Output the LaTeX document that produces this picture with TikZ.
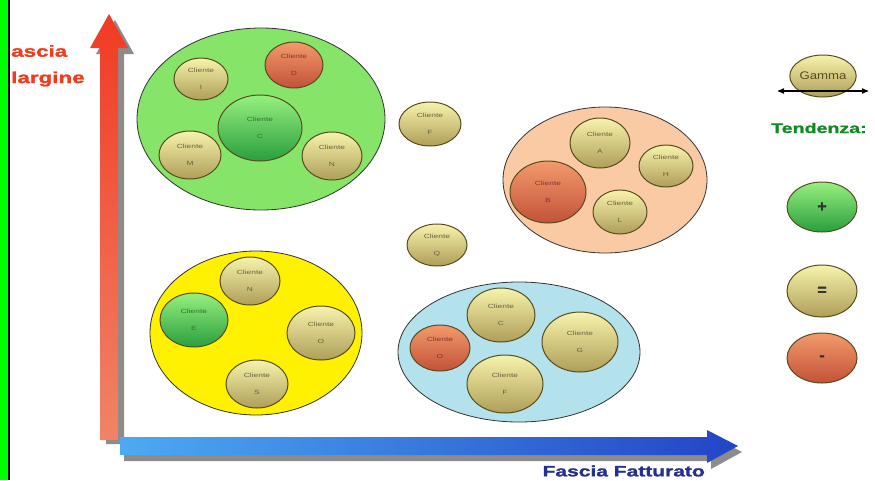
\documentclass[tikz,border=0pt]{standalone}
\usepackage{fontspec}
\setmainfont{Liberation Sans}
\newfontfamily\heavyfont{Liberation Sans Bold}[FakeBold=1.2]
\usepackage{graphicx}
\usepackage{tikz}
\usetikzlibrary{arrows}
\usetikzlibrary{shapes.geometric}
\usetikzlibrary{shadings}

\definecolor{clientlight}{HTML}{F7F3AC}
\definecolor{clientdark}{HTML}{AE9E58}
\definecolor{clientedge}{HTML}{574C1E}
\definecolor{clienttext}{HTML}{6A6040}
\definecolor{uplight}{HTML}{96F07E}
\definecolor{updark}{HTML}{2A9E3E}
\definecolor{downlight}{HTML}{F39A6C}
\definecolor{downdark}{HTML}{C25238}
\definecolor{groupgreen}{HTML}{86E468}
\definecolor{groupyellow}{HTML}{FFF100}
\definecolor{grouppeach}{HTML}{F9CAA4}
\definecolor{groupblue}{HTML}{B4E2EC}
\definecolor{axisred}{HTML}{F23A24}
\definecolor{axisorange}{HTML}{F08466}
\definecolor{axisblue}{HTML}{4CAAF2}
\definecolor{axisdeep}{HTML}{2344C6}
\definecolor{labelred}{HTML}{EE3C1E}
\definecolor{labelblue}{HTML}{22318E}
\definecolor{labelgreen}{HTML}{128A24}

\newcommand{\wide}[1]{\scalebox{1.4}[1]{#1}}
\newcommand{\clientlabel}[1]{\wide{Cliente}\\\wide{#1}}

\begin{document}
\begin{tikzpicture}[x=1pt, y=-1pt,
  group/.style={ellipse, draw=black!80, line width=0.8pt, inner sep=0pt},
  client/.style={ellipse, draw=clientedge, line width=1pt, inner sep=0pt,
    top color=clientlight, bottom color=clientdark, text=clienttext,
    font=\fontsize{6}{17}\selectfont, align=center},
  up/.style={client, top color=uplight, bottom color=updark, text=green!30!black!80},
  down/.style={client, top color=downlight, bottom color=downdark, text=red!40!black!80},
  dims/.style 2 args={minimum width=#1pt, minimum height=#2pt},
  axislabel/.style={font=\fontsize{#1}{#1}\heavyfont, inner sep=0pt},
  paths/.style={<->, line width=1.2pt, >=stealth'}]

 \useasboundingbox (0,0) rectangle (875,480);
 \fill[white] (0,0) rectangle (875,480);

 \node[axislabel=16, text=labelred, anchor=west] (axis_label_1) at (11,51) {\wide{ascia}};
 \node[axislabel=16, text=labelred, anchor=west] (axis_label_2) at (11,79) {\wide{largine}};

 \fill[green] (0,0) rectangle (8,480);
 \fill[black] (8,0) rectangle (9.5,480);

 \fill[black!45] (106,444) -- (106,54) -- (96,54) -- (115,20) -- (134,54) -- (124,54) -- (124,444) -- cycle;
 \path[top color=axisred, bottom color=axisorange] (100,440) -- (100,48) -- (90,48) -- (109,14) -- (128,48) -- (118,48) -- (118,440) -- cycle;

 \fill[black!45] (124,443) -- (711,443) -- (711,436) -- (742,452) -- (711,469) -- (711,461) -- (124,461) -- cycle;
 \path[left color=axisblue, right color=axisdeep] (120,437) -- (707,437) -- (707,430) -- (738,446) -- (707,463) -- (707,455) -- (120,455) -- cycle;

 \node[axislabel=15, text=labelblue, anchor=east] (axis_label_3) at (705,471) {\wide{Fascia Fatturato}};


 \node[group, fill=groupgreen, dims={248}{182}] (group_1) at (261,119) {};
 \node[client, dims={54}{42}] (client_1) at (201,79) {\clientlabel{I}};
 \node[down, dims={58}{46}] (client_2) at (294,65) {\clientlabel{D}};
 \node[up, dims={84}{66}] (client_3) at (260,128) {\clientlabel{C}};
 \node[client, dims={62}{48}] (client_4) at (190,155) {\clientlabel{M}};
 \node[client, dims={60}{48}] (client_5) at (332,156) {\clientlabel{N}};

 \node[client, dims={62}{44}] (client_6) at (430,124) {\clientlabel{F}};
 \node[client, dims={60}{42}] (client_7) at (437,245) {\clientlabel{Q}};

 \node[group, fill=grouppeach, dims={204}{146}] (group_2) at (605,180) {};
 \node[client, dims={60}{50}] (client_8) at (600,143) {\clientlabel{A}};
 \node[client, dims={54}{42}] (client_9) at (666,166) {\clientlabel{H}};
 \node[down, dims={76}{62}] (client_10) at (548,192) {\clientlabel{B}};
 \node[client, dims={54}{44}] (client_11) at (620,212) {\clientlabel{L}};

 \node[group, fill=groupyellow, dims={212}{164}] (group_3) at (256,333) {};
 \node[client, dims={60}{48}] (client_12) at (250,281) {\clientlabel{N}};
 \node[up, dims={68}{54}] (client_13) at (194,320) {\clientlabel{E}};
 \node[client, dims={68}{54}] (client_14) at (321,333) {\clientlabel{O}};
 \node[client, dims={62}{48}] (client_15) at (257,384) {\clientlabel{S}};

 \node[group, fill=groupblue, dims={242}{140}] (group_4) at (519,352) {};
 \node[client, dims={68}{54}] (client_16) at (501,315) {\clientlabel{C}};
 \node[client, dims={76}{60}] (client_17) at (580,342) {\clientlabel{G}};
 \node[down, dims={60}{46}] (client_18) at (440,348) {\clientlabel{O}};
 \node[client, dims={76}{58}] (client_19) at (505,384) {\clientlabel{F}};


 \node[client, dims={66}{42}, font=\fontsize{11}{11}\selectfont, text=clientedge] (legend_1) at (823,76) {\scalebox{1.2}[1]{Gamma}};
 \coordinate (gamma_left) at (778,91);
 \coordinate (gamma_right) at (868,91);
 \draw [paths] (gamma_left) -- (gamma_right);

 \node[axislabel=14, text=labelgreen, anchor=west] (legend_2) at (771,128) {\wide{Tendenza:}};

 \node[up, dims={70}{50}, font=\fontsize{16}{16}\heavyfont, text=black!80] (legend_3) at (822,207) {+};
 \node[client, dims={70}{52}, font=\fontsize{16}{16}\heavyfont, text=black!80] (legend_4) at (822,291) {=};
 \node[down, dims={70}{50}, font=\fontsize{16}{16}\heavyfont, text=black!80] (legend_5) at (822,358) {-};


\end{tikzpicture}
\end{document}
